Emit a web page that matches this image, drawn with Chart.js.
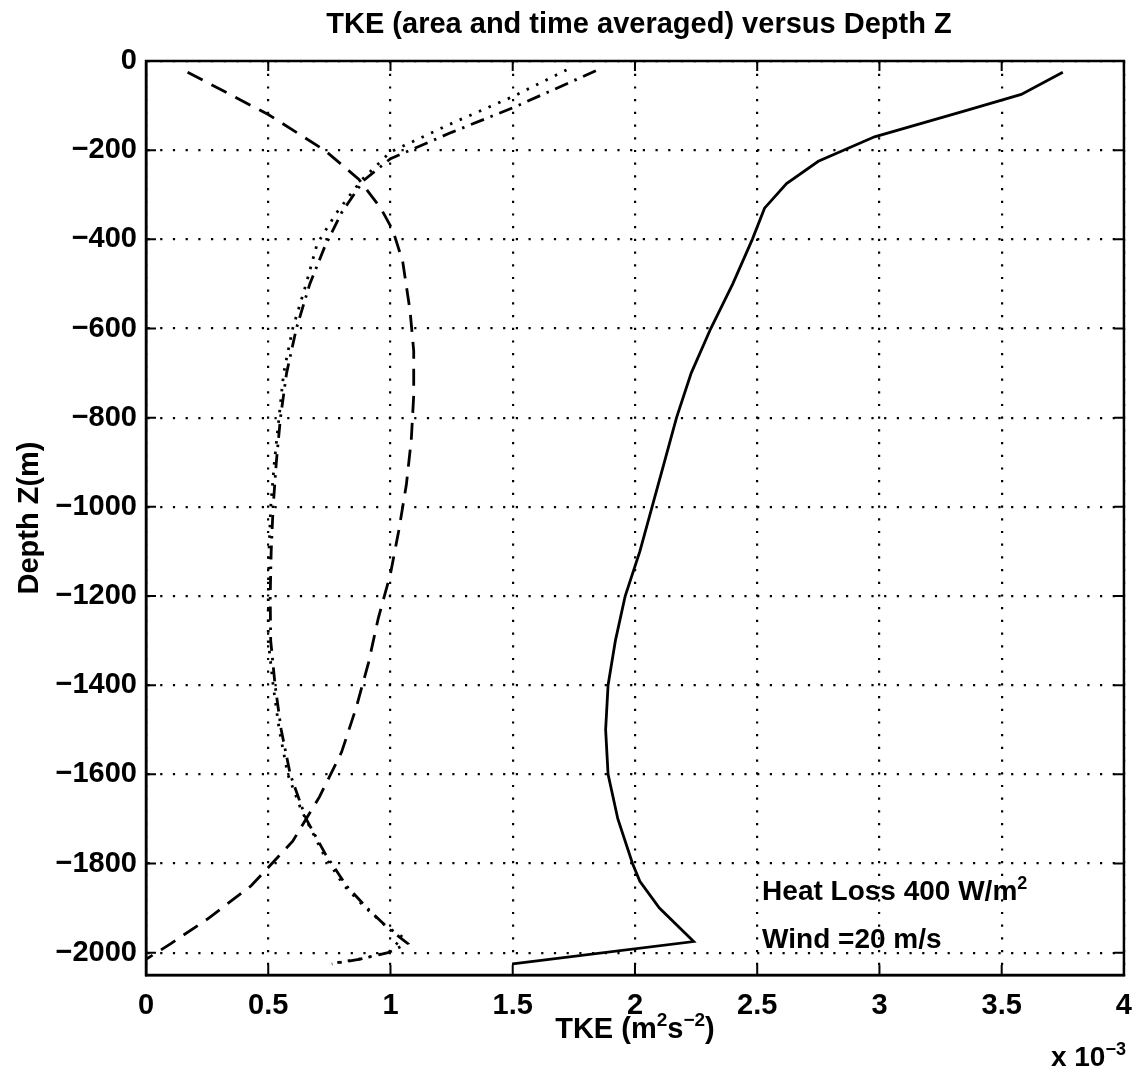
<!DOCTYPE html>
<html>
<head>
<meta charset="utf-8">
<script src="https://cdn.jsdelivr.net/npm/chart.js@4.4.1/dist/chart.umd.min.js"></script>
<style>
  html, body { margin: 0; padding: 0; background: #fff; }
</style>
</head>
<body>
<canvas id="tke-chart" width="1146" height="1071"></canvas>
<script>
// TKE values are in units of 1e-3 m^2 s^-2 (axis multiplier "x 10^-3"), depth in m
var xTicks = [0, 0.5, 1, 1.5, 2, 2.5, 3, 3.5, 4];
var yTicks = [0, -200, -400, -600, -800, -1000, -1200, -1400, -1600, -1800, -2000];

// solid curve
var solidDepth = [-25, -75, -110, -170, -225, -275, -330, -400, -500, -600, -700, -800, -900, -1000, -1100, -1200, -1300, -1400, -1500, -1600, -1700, -1800, -1840, -1900, -1975, -2025];
var solidTke   = [3.75, 3.58, 3.36, 2.98, 2.75, 2.62, 2.53, 2.48, 2.40, 2.31, 2.23, 2.17, 2.12, 2.07, 2.02, 1.96, 1.92, 1.89, 1.88, 1.89, 1.93, 1.99, 2.02, 2.10, 2.24, 1.50];

// dashed curve
var dashDepth = [-25, -120, -200, -265, -330, -380, -450, -560, -650, -750, -850, -950, -1050, -1150, -1250, -1350, -1450, -1550, -1650, -1750, -1850, -1925, -1980, -2015];
var dashTke   = [0.17, 0.50, 0.73, 0.87, 0.96, 1.01, 1.05, 1.08, 1.095, 1.095, 1.085, 1.065, 1.035, 1.0, 0.95, 0.91, 0.86, 0.80, 0.71, 0.60, 0.43, 0.25, 0.10, 0.0];

// dotted curve
var dotDepth = [-20, -80, -140, -204, -268, -340, -410, -500, -600, -700, -800, -900, -1000, -1100, -1200, -1300, -1400, -1500, -1600, -1680, -1780, -1850, -1895, -1940, -1965, -1998, -2013, -2025];
var dotTke   = [1.72, 1.50, 1.25, 1.0, 0.88, 0.78, 0.70, 0.655, 0.60, 0.563, 0.544, 0.525, 0.51, 0.503, 0.50, 0.50, 0.52, 0.545, 0.58, 0.635, 0.727, 0.81, 0.89, 0.98, 1.05, 0.995, 0.89, 0.75];

// dash-dot curve
var dashDotDepth = [-22, -105, -160, -219, -268, -340, -418, -500, -600, -700, -800, -900, -1000, -1100, -1200, -1300, -1400, -1500, -1600, -1700, -1780, -1850, -1900, -1945, -1979, -2000, -2015, -2025];
var dashDotTke   = [1.84, 1.50, 1.25, 1.0, 0.89, 0.80, 0.73, 0.67, 0.615, 0.575, 0.55, 0.533, 0.52, 0.512, 0.508, 0.51, 0.528, 0.553, 0.59, 0.655, 0.735, 0.82, 0.905, 0.99, 1.07, 0.99, 0.87, 0.76];

var FONT = '"Liberation Sans", Arial, Helvetica, sans-serif';

function pairs(depth, tke) {
    return depth.map(function (d, i) { return {x: tke[i], y: d}; });
}

function line(data, dash) {
    return {
        data: data,
        showLine: true,
        borderColor: '#000',
        borderWidth: 2.8,
        borderDash: dash,
        pointRadius: 0,
        tension: 0,
        fill: false
    };
}

// text with superscript pieces, e.g. m^2
function drawRich(ctx, parts, x, y, align, size) {
    var total = 0;
    parts.forEach(function (p) {
        ctx.font = 'bold ' + (p.sup ? Math.round(size * 0.66) : size) + 'px ' + FONT;
        p.w = ctx.measureText(p.t).width;
        total += p.w;
    });
    var cx = align === 'center' ? x - total / 2 : (align === 'right' ? x - total : x);
    ctx.textAlign = 'left';
    ctx.textBaseline = 'alphabetic';
    parts.forEach(function (p) {
        ctx.font = 'bold ' + (p.sup ? Math.round(size * 0.66) : size) + 'px ' + FONT;
        ctx.fillText(p.t, cx, p.sup ? y - size * 0.4 : y);
        cx += p.w;
    });
}

var frame = {
    id: 'frame',
    afterDraw: function (chart) {
        var ctx = chart.ctx, a = chart.chartArea;
        var xs = chart.scales.x, ys = chart.scales.y;
        ctx.save();
        ctx.strokeStyle = '#000';
        ctx.fillStyle = '#000';
        ctx.lineWidth = 2.5;
        ctx.setLineDash([]);
        ctx.strokeRect(a.left, a.top, a.right - a.left, a.bottom - a.top);
        // inward tick marks on all four sides
        ctx.lineWidth = 2;
        ctx.beginPath();
        xTicks.forEach(function (v) {
            var px = xs.getPixelForValue(v);
            ctx.moveTo(px, a.bottom); ctx.lineTo(px, a.bottom - 10);
            ctx.moveTo(px, a.top); ctx.lineTo(px, a.top + 10);
        });
        yTicks.forEach(function (v) {
            var py = ys.getPixelForValue(v);
            ctx.moveTo(a.left, py); ctx.lineTo(a.left + 10, py);
            ctx.moveTo(a.right, py); ctx.lineTo(a.right - 10, py);
        });
        ctx.stroke();

        var mid = (a.left + a.right) / 2;
        drawRich(ctx, [{t: 'TKE (area and time averaged) versus Depth Z'}], mid + 4, 33, 'center', 29);
        drawRich(ctx, [{t: 'TKE (m'}, {t: '2', sup: true}, {t: 's'}, {t: '\u22122', sup: true}, {t: ')'}], mid, 1038, 'center', 29);
        drawRich(ctx, [{t: 'x 10'}, {t: '\u22123', sup: true}], a.right + 2, 1066, 'right', 28);

        // in-plot annotation
        var tx = xs.getPixelForValue(2.52);
        drawRich(ctx, [{t: 'Heat Loss 400 W/m'}, {t: '2', sup: true}], tx, ys.getPixelForValue(-1858) + 11, 'left', 28);
        drawRich(ctx, [{t: 'Wind =20 m/s'}], tx, ys.getPixelForValue(-1964) + 11, 'left', 28);

        // y axis title
        ctx.translate(30, (a.top + a.bottom) / 2);
        ctx.rotate(-Math.PI / 2);
        ctx.font = 'bold 29px ' + FONT;
        ctx.textAlign = 'center';
        ctx.textBaseline = 'middle';
        ctx.fillText('Depth Z(m)', 0, 0);
        ctx.restore();
    }
};

var ctx = document.getElementById('tke-chart').getContext('2d');
var chart = new Chart(ctx, {
    type: 'scatter',
    data: {
        datasets: [
            line(pairs(solidDepth, solidTke), []),
            line(pairs(dashDepth, dashTke), [17, 10]),
            line(pairs(dotDepth, dotTke), [2.5, 8]),
            line(pairs(dashDotDepth, dashDotTke), [14, 7, 2.5, 7])
        ]
    },
    options: {
        responsive: false,
        animation: false,
        devicePixelRatio: 1,
        layout: { padding: { top: 61, right: 11, left: 0, bottom: 0 } },
        plugins: { legend: { display: false }, tooltip: { enabled: false } },
        scales: {
            x: {
                type: 'linear',
                min: 0,
                max: 4,
                afterFit: function (s) { s.height = 96; },
                afterBuildTicks: function (s) { s.ticks = xTicks.map(function (v) { return {value: v}; }); },
                ticks: {
                    color: '#000',
                    font: { size: 29, weight: 'bold', family: FONT },
                    padding: 14,
                    maxRotation: 0,
                    callback: function (v) { return String(v); }
                },
                grid: { color: '#000', lineWidth: 2.2, drawTicks: false },
                border: { display: true, color: '#000', width: 2.5, dash: [2.2, 10.5] }
            },
            y: {
                type: 'linear',
                min: -2050,
                max: 0,
                afterFit: function (s) { s.width = 146; },
                afterBuildTicks: function (s) { s.ticks = yTicks.map(function (v) { return {value: v}; }); },
                ticks: {
                    color: '#000',
                    font: { size: 29, weight: 'bold', family: FONT },
                    padding: 9,
                    callback: function (v) { return v < 0 ? '\u2212' + Math.abs(v) : String(v); }
                },
                grid: { color: '#000', lineWidth: 2.2, drawTicks: false },
                border: { display: true, color: '#000', width: 2.5, dash: [2.2, 10.5] }
            }
        }
    },
    plugins: [frame]
});
</script>
</body>
</html>
